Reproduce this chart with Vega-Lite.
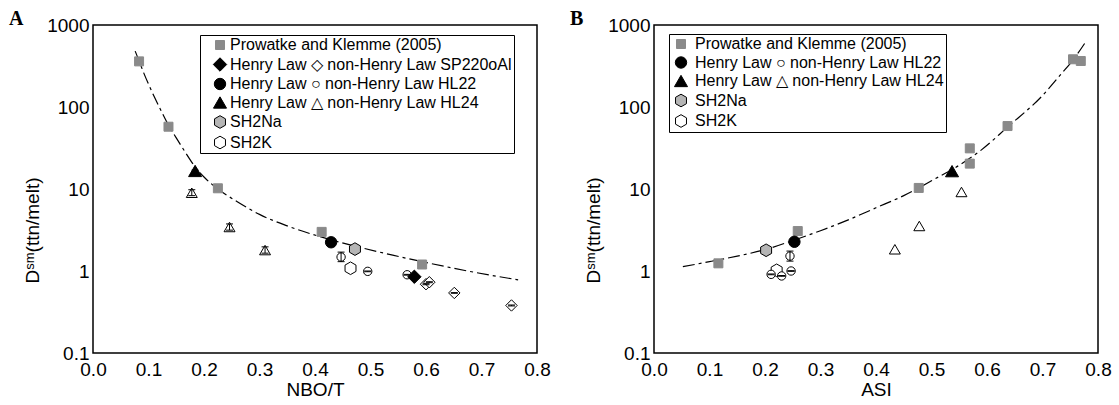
{
  "$schema": "https://vega.github.io/schema/vega-lite/v6.json",
  "background": "white",
  "padding": {"left": 8, "top": 8, "right": 4, "bottom": 4},
  "config": {
    "font": "Liberation Sans",
    "view": {"stroke": "black", "strokeWidth": 1.5},
    "axis": {"domain": false, "grid": false, "labelFont": "Liberation Sans", "titleFont": "Liberation Sans", "labelColor": "black", "titleColor": "black", "tickColor": "black", "tickWidth": 1, "titleFontWeight": "normal", "labelFontSize": 19, "titleFontSize": 19},
    "legend": {"labelFont": "Liberation Sans", "labelFontSize": 16, "labelColor": "black", "strokeColor": "black", "fillColor": "white", "padding": 2, "rowPadding": 2.5, "symbolOffset": 10, "labelOffset": 2, "labelLimit": 600, "symbolStrokeWidth": 1}
  },
  "datasets": {
    "ptsA": [
      {"x": 0.083, "D": 360, "series": "Prowatke and Klemme (2005)"},
      {"x": 0.136, "D": 57.5, "series": "Prowatke and Klemme (2005)"},
      {"x": 0.225, "D": 10.2, "series": "Prowatke and Klemme (2005)"},
      {"x": 0.412, "D": 3.0, "series": "Prowatke and Klemme (2005)"},
      {"x": 0.593, "D": 1.2, "series": "Prowatke and Klemme (2005)"},
      {"x": 0.178, "D": 9.0, "lo": 8.3, "hi": 9.8, "series": "non-Henry Law HL24"},
      {"x": 0.246, "D": 3.44, "lo": 3.15, "hi": 3.75, "series": "non-Henry Law HL24"},
      {"x": 0.31, "D": 1.8, "lo": 1.65, "hi": 1.97, "series": "non-Henry Law HL24"},
      {"x": 0.447, "D": 1.48, "lo": 1.3, "hi": 1.7, "series": "non-Henry Law HL22"},
      {"x": 0.495, "D": 0.99, "lo": 0.98, "hi": 1.0, "series": "non-Henry Law HL22"},
      {"x": 0.566, "D": 0.9, "lo": 0.89, "hi": 0.91, "series": "non-Henry Law HL22"},
      {"x": 0.600, "D": 0.69, "lo": 0.68, "hi": 0.70, "series": "non-Henry Law SP220oAl"},
      {"x": 0.606, "D": 0.73, "lo": 0.72, "hi": 0.74, "series": "non-Henry Law SP220oAl"},
      {"x": 0.651, "D": 0.54, "lo": 0.535, "hi": 0.545, "series": "non-Henry Law SP220oAl"},
      {"x": 0.754, "D": 0.38, "lo": 0.375, "hi": 0.385, "series": "non-Henry Law SP220oAl"},
      {"x": 0.184, "D": 16.6, "lo": 14.6, "hi": 17.0, "series": "Henry Law HL24"},
      {"x": 0.429, "D": 2.24, "series": "Henry Law HL22"},
      {"x": 0.579, "D": 0.85, "series": "Henry Law SP220oAl"},
      {"x": 0.472, "D": 1.85, "series": "SH2Na"},
      {"x": 0.464, "D": 1.08, "series": "SH2K"}
    ],
    "curveA": [
      {"x": 0.076, "D": 480}, {"x": 0.083, "D": 365}, {"x": 0.09, "D": 275}, {"x": 0.10, "D": 190},
      {"x": 0.11, "D": 135}, {"x": 0.12, "D": 98}, {"x": 0.136, "D": 60}, {"x": 0.15, "D": 42},
      {"x": 0.165, "D": 29}, {"x": 0.184, "D": 18.6}, {"x": 0.20, "D": 14}, {"x": 0.225, "D": 10.0},
      {"x": 0.26, "D": 7.0}, {"x": 0.30, "D": 4.9}, {"x": 0.35, "D": 3.55}, {"x": 0.42, "D": 2.5},
      {"x": 0.48, "D": 1.95}, {"x": 0.54, "D": 1.56}, {"x": 0.60, "D": 1.27}, {"x": 0.675, "D": 1.0},
      {"x": 0.766, "D": 0.78}
    ],
    "ptsB": [
      {"x": 0.116, "D": 1.24, "series": "Prowatke and Klemme (2005)"},
      {"x": 0.259, "D": 3.07, "series": "Prowatke and Klemme (2005)"},
      {"x": 0.477, "D": 10.3, "series": "Prowatke and Klemme (2005)"},
      {"x": 0.569, "D": 20.4, "series": "Prowatke and Klemme (2005)"},
      {"x": 0.569, "D": 31.3, "series": "Prowatke and Klemme (2005)"},
      {"x": 0.637, "D": 58.6, "series": "Prowatke and Klemme (2005)"},
      {"x": 0.755, "D": 382, "series": "Prowatke and Klemme (2005)"},
      {"x": 0.769, "D": 364, "series": "Prowatke and Klemme (2005)"},
      {"x": 0.434, "D": 1.84, "series": "non-Henry Law HL24"},
      {"x": 0.478, "D": 3.54, "series": "non-Henry Law HL24"},
      {"x": 0.554, "D": 9.2, "series": "non-Henry Law HL24"},
      {"x": 0.221, "D": 1.02, "series": "SH2K"},
      {"x": 0.245, "D": 1.52, "lo": 1.32, "hi": 1.75, "series": "non-Henry Law HL22"},
      {"x": 0.211, "D": 0.91, "lo": 0.9, "hi": 0.92, "series": "non-Henry Law HL22"},
      {"x": 0.230, "D": 0.87, "lo": 0.86, "hi": 0.88, "series": "non-Henry Law HL22"},
      {"x": 0.247, "D": 1.0, "lo": 0.99, "hi": 1.01, "series": "non-Henry Law HL22"},
      {"x": 0.253, "D": 2.27, "series": "Henry Law HL22"},
      {"x": 0.537, "D": 16.5, "series": "Henry Law HL24"},
      {"x": 0.202, "D": 1.79, "series": "SH2Na"}
    ],
    "curveB": [
      {"x": 0.052, "D": 1.13}, {"x": 0.10, "D": 1.3}, {"x": 0.15, "D": 1.52}, {"x": 0.20, "D": 1.82},
      {"x": 0.25, "D": 2.35}, {"x": 0.30, "D": 3.1}, {"x": 0.35, "D": 4.2}, {"x": 0.40, "D": 5.9},
      {"x": 0.45, "D": 8.3}, {"x": 0.477, "D": 10.3}, {"x": 0.50, "D": 12.6}, {"x": 0.55, "D": 19.5},
      {"x": 0.59, "D": 30}, {"x": 0.637, "D": 57}, {"x": 0.70, "D": 138}, {"x": 0.733, "D": 250},
      {"x": 0.755, "D": 375}, {"x": 0.779, "D": 640}
    ]
  },
  "hconcat": [
    {
      "width": 444, "height": 328,
      "title": {"text": "A", "anchor": "start", "frame": "group", "orient": "top", "offset": 0, "dx": -84, "dy": 29, "align": "left", "baseline": "alphabetic", "font": "Liberation Serif", "fontSize": 20, "fontWeight": "bold", "color": "black"},
      "layer": [
        {
          "data": {"name": "curveA"},
          "mark": {"type": "line", "stroke": "black", "strokeWidth": 1.2, "strokeDash": [12, 4, 3, 4], "interpolate": "monotone"},
          "encoding": {
            "x": {"field": "x", "type": "quantitative", "scale": {"domain": [0, 0.8], "nice": false, "zero": false},
              "axis": {"orient": "top", "title": null, "labels": false, "tickSize": 0, "values": [0,0.05,0.1,0.15,0.2,0.25,0.3,0.35,0.4,0.45,0.5,0.55,0.6,0.65,0.7,0.75,0.8],
                "encode": {"ticks": {"update": {"y2": {"signal": "round(datum.value*20)%2==0 ? 8 : 4"}}}}}},
            "y": {"field": "D", "type": "quantitative", "scale": {"type": "log", "domain": [0.1, 1000], "nice": false},
              "axis": {"orient": "right", "title": null, "labels": false, "tickSize": 0, "values": [0.1,0.2,0.3,0.4,0.5,0.6,0.7,0.8,0.9,1,2,3,4,5,6,7,8,9,10,20,30,40,50,60,70,80,90,100,200,300,400,500,600,700,800,900,1000],
                "encode": {"ticks": {"update": {"x2": {"signal": "abs(log(datum.value)/LN10 - round(log(datum.value)/LN10)) < 0.001 ? -8 : -4"}}}}}}
          }
        },
        {
          "data": {"name": "ptsA"},
          "mark": {"type": "point", "filled": true, "opacity": 1, "strokeWidth": 1},
          "encoding": {
            "x": {"field": "x", "type": "quantitative",
              "axis": {"orient": "bottom", "title": "NBO/T", "tickSize": 0, "labelPadding": 7, "labelOverlap": false, "labelFlush": false, "labelBound": false, "titleY": 36, "titleBaseline": "middle",
                "values": [0,0.05,0.1,0.15,0.2,0.25,0.3,0.35,0.4,0.45,0.5,0.55,0.6,0.65,0.7,0.75,0.8],
                "labelExpr": "round(datum.value*20)%2==0 ? format(datum.value,'.1f') : ''",
                "encode": {"ticks": {"update": {"y2": {"signal": "round(datum.value*20)%2==0 ? -8 : -4"}}}}}},
            "y": {"field": "D", "type": "quantitative",
              "axis": {"orient": "left", "title": "Dˢᵐ(ttn/melt)", "tickSize": 0, "labelPadding": 4, "labelOverlap": false, "labelFlush": false, "labelBound": false, "titleX": -61, "titleY": 205, "titleAlign": "center", "titleBaseline": "middle",
                "values": [0.1,0.2,0.3,0.4,0.5,0.6,0.7,0.8,0.9,1,2,3,4,5,6,7,8,9,10,20,30,40,50,60,70,80,90,100,200,300,400,500,600,700,800,900,1000],
                "labelExpr": "abs(log(datum.value)/LN10 - round(log(datum.value)/LN10)) < 0.001 ? format(datum.value,'~g') : ''",
                "encode": {"ticks": {"update": {"x2": {"signal": "abs(log(datum.value)/LN10 - round(log(datum.value)/LN10)) < 0.001 ? 8 : 4"}}}}}},
            "shape": {"field": "series", "type": "nominal",
              "scale": {"domain": ["Prowatke and Klemme (2005)", "Henry Law SP220oAl", "non-Henry Law SP220oAl", "Henry Law HL22", "non-Henry Law HL22", "Henry Law HL24", "non-Henry Law HL24", "SH2Na", "SH2K"],
                "range": ["square", "diamond", "diamond", "circle", "circle", "triangle-up", "triangle-up", "M0,-1L0.866,-0.5L0.866,0.5L0,1L-0.866,0.5L-0.866,-0.5Z", "M0,-1L0.866,-0.5L0.866,0.5L0,1L-0.866,0.5L-0.866,-0.5Z"]},
              "legend": {"orient": "none", "legendX": 107, "legendY": 10, "title": null,
                "values": ["Prowatke and Klemme (2005)", "Henry Law SP220oAl", "Henry Law HL22", "Henry Law HL24", "SH2Na", "SH2K"],
                "labelExpr": "datum.label == 'Henry Law SP220oAl' ? 'Henry Law ◇ non-Henry Law SP220oAl' : datum.label == 'Henry Law HL22' ? 'Henry Law ○ non-Henry Law HL22' : datum.label == 'Henry Law HL24' ? 'Henry Law △ non-Henry Law HL24' : datum.label"}},
            "fill": {"field": "series", "type": "nominal",
              "scale": {"domain": ["Prowatke and Klemme (2005)", "Henry Law SP220oAl", "non-Henry Law SP220oAl", "Henry Law HL22", "non-Henry Law HL22", "Henry Law HL24", "non-Henry Law HL24", "SH2Na", "SH2K"],
                "range": ["#8a8a8a", "black", "white", "black", "white", "black", "white", "#b5b5b5", "white"]}},
            "stroke": {"field": "series", "type": "nominal",
              "scale": {"domain": ["Prowatke and Klemme (2005)", "Henry Law SP220oAl", "non-Henry Law SP220oAl", "Henry Law HL22", "non-Henry Law HL22", "Henry Law HL24", "non-Henry Law HL24", "SH2Na", "SH2K"],
                "range": ["#8a8a8a", "black", "black", "black", "black", "black", "black", "black", "black"]}},
            "size": {"field": "series", "type": "nominal",
              "scale": {"type": "ordinal", "domain": ["Prowatke and Klemme (2005)", "Henry Law SP220oAl", "non-Henry Law SP220oAl", "Henry Law HL22", "non-Henry Law HL22", "Henry Law HL24", "non-Henry Law HL24", "SH2Na", "SH2K"],
                "range": [81, 180, 130, 130, 70, 170, 120, 160, 160]}}
          }
        },
        {
          "data": {"name": "ptsA"},
          "transform": [{"filter": "isValid(datum.lo)"}],
          "mark": {"type": "rule", "color": "black", "strokeWidth": 1},
          "encoding": {
            "x": {"field": "x", "type": "quantitative", "axis": null},
            "y": {"field": "lo", "type": "quantitative", "axis": null},
            "y2": {"field": "hi"}
          }
        },
        {
          "data": {"name": "ptsA"},
          "transform": [{"filter": "isValid(datum.lo)"}],
          "mark": {"type": "tick", "orient": "horizontal", "color": "black", "size": 7, "thickness": 1, "opacity": 1},
          "encoding": {
            "x": {"field": "x", "type": "quantitative", "axis": null},
            "y": {"field": "lo", "type": "quantitative", "axis": null}
          }
        },
        {
          "data": {"name": "ptsA"},
          "transform": [{"filter": "isValid(datum.hi)"}],
          "mark": {"type": "tick", "orient": "horizontal", "color": "black", "size": 7, "thickness": 1, "opacity": 1},
          "encoding": {
            "x": {"field": "x", "type": "quantitative", "axis": null},
            "y": {"field": "hi", "type": "quantitative", "axis": null}
          }
        }
      ],
      "resolve": {"axis": {"x": "independent", "y": "independent"}}
    },
    {
      "width": 444, "height": 328,
      "title": {"text": "B", "anchor": "start", "frame": "group", "orient": "top", "offset": 0, "dx": -84, "dy": 29, "align": "left", "baseline": "alphabetic", "font": "Liberation Serif", "fontSize": 20, "fontWeight": "bold", "color": "black"},
      "layer": [
        {
          "data": {"name": "curveB"},
          "mark": {"type": "line", "stroke": "black", "strokeWidth": 1.2, "strokeDash": [12, 4, 3, 4], "interpolate": "monotone"},
          "encoding": {
            "x": {"field": "x", "type": "quantitative", "scale": {"domain": [0, 0.8], "nice": false, "zero": false},
              "axis": {"orient": "top", "title": null, "labels": false, "tickSize": 0, "values": [0,0.05,0.1,0.15,0.2,0.25,0.3,0.35,0.4,0.45,0.5,0.55,0.6,0.65,0.7,0.75,0.8],
                "encode": {"ticks": {"update": {"y2": {"signal": "round(datum.value*20)%2==0 ? 8 : 4"}}}}}},
            "y": {"field": "D", "type": "quantitative", "scale": {"type": "log", "domain": [0.1, 1000], "nice": false},
              "axis": {"orient": "right", "title": null, "labels": false, "tickSize": 0, "values": [0.1,0.2,0.3,0.4,0.5,0.6,0.7,0.8,0.9,1,2,3,4,5,6,7,8,9,10,20,30,40,50,60,70,80,90,100,200,300,400,500,600,700,800,900,1000],
                "encode": {"ticks": {"update": {"x2": {"signal": "abs(log(datum.value)/LN10 - round(log(datum.value)/LN10)) < 0.001 ? -8 : -4"}}}}}}
          }
        },
        {
          "data": {"name": "ptsB"},
          "mark": {"type": "point", "filled": true, "opacity": 1, "strokeWidth": 1},
          "encoding": {
            "x": {"field": "x", "type": "quantitative",
              "axis": {"orient": "bottom", "title": "ASI", "tickSize": 0, "labelPadding": 7, "labelOverlap": false, "labelFlush": false, "labelBound": false, "titleY": 36, "titleBaseline": "middle",
                "values": [0,0.05,0.1,0.15,0.2,0.25,0.3,0.35,0.4,0.45,0.5,0.55,0.6,0.65,0.7,0.75,0.8],
                "labelExpr": "round(datum.value*20)%2==0 ? format(datum.value,'.1f') : ''",
                "encode": {"ticks": {"update": {"y2": {"signal": "round(datum.value*20)%2==0 ? -8 : -4"}}}}}},
            "y": {"field": "D", "type": "quantitative",
              "axis": {"orient": "left", "title": "Dˢᵐ(ttn/melt)", "tickSize": 0, "labelPadding": 4, "labelOverlap": false, "labelFlush": false, "labelBound": false, "titleX": -61, "titleY": 205, "titleAlign": "center", "titleBaseline": "middle",
                "values": [0.1,0.2,0.3,0.4,0.5,0.6,0.7,0.8,0.9,1,2,3,4,5,6,7,8,9,10,20,30,40,50,60,70,80,90,100,200,300,400,500,600,700,800,900,1000],
                "labelExpr": "abs(log(datum.value)/LN10 - round(log(datum.value)/LN10)) < 0.001 ? format(datum.value,'~g') : ''",
                "encode": {"ticks": {"update": {"x2": {"signal": "abs(log(datum.value)/LN10 - round(log(datum.value)/LN10)) < 0.001 ? 8 : 4"}}}}}},
            "shape": {"field": "series", "type": "nominal",
              "scale": {"domain": ["Prowatke and Klemme (2005)", "Henry Law HL22", "non-Henry Law HL22", "Henry Law HL24", "non-Henry Law HL24", "SH2Na", "SH2K"],
                "range": ["square", "circle", "circle", "triangle-up", "triangle-up", "M0,-1L0.866,-0.5L0.866,0.5L0,1L-0.866,0.5L-0.866,-0.5Z", "M0,-1L0.866,-0.5L0.866,0.5L0,1L-0.866,0.5L-0.866,-0.5Z"]},
              "legend": {"orient": "none", "legendX": 15, "legendY": 9, "title": null, "symbolOffset": 2, "labelOffset": 6,
                "values": ["Prowatke and Klemme (2005)", "Henry Law HL22", "Henry Law HL24", "SH2Na", "SH2K"],
                "labelExpr": "datum.label == 'Henry Law HL22' ? 'Henry Law ○ non-Henry Law HL22' : datum.label == 'Henry Law HL24' ? 'Henry Law △ non-Henry Law HL24' : datum.label"}},
            "fill": {"field": "series", "type": "nominal",
              "scale": {"domain": ["Prowatke and Klemme (2005)", "Henry Law HL22", "non-Henry Law HL22", "Henry Law HL24", "non-Henry Law HL24", "SH2Na", "SH2K"],
                "range": ["#8a8a8a", "black", "white", "black", "white", "#b5b5b5", "white"]}},
            "stroke": {"field": "series", "type": "nominal",
              "scale": {"domain": ["Prowatke and Klemme (2005)", "Henry Law HL22", "non-Henry Law HL22", "Henry Law HL24", "non-Henry Law HL24", "SH2Na", "SH2K"],
                "range": ["#8a8a8a", "black", "black", "black", "black", "black", "black"]}},
            "size": {"field": "series", "type": "nominal",
              "scale": {"type": "ordinal", "domain": ["Prowatke and Klemme (2005)", "Henry Law HL22", "non-Henry Law HL22", "Henry Law HL24", "non-Henry Law HL24", "SH2Na", "SH2K"],
                "range": [81, 130, 70, 170, 120, 160, 160]}}
          }
        },
        {
          "data": {"name": "ptsB"},
          "transform": [{"filter": "isValid(datum.lo)"}],
          "mark": {"type": "rule", "color": "black", "strokeWidth": 1},
          "encoding": {
            "x": {"field": "x", "type": "quantitative", "axis": null},
            "y": {"field": "lo", "type": "quantitative", "axis": null},
            "y2": {"field": "hi"}
          }
        },
        {
          "data": {"name": "ptsB"},
          "transform": [{"filter": "isValid(datum.lo)"}],
          "mark": {"type": "tick", "orient": "horizontal", "color": "black", "size": 7, "thickness": 1, "opacity": 1},
          "encoding": {
            "x": {"field": "x", "type": "quantitative", "axis": null},
            "y": {"field": "lo", "type": "quantitative", "axis": null}
          }
        },
        {
          "data": {"name": "ptsB"},
          "transform": [{"filter": "isValid(datum.hi)"}],
          "mark": {"type": "tick", "orient": "horizontal", "color": "black", "size": 7, "thickness": 1, "opacity": 1},
          "encoding": {
            "x": {"field": "x", "type": "quantitative", "axis": null},
            "y": {"field": "hi", "type": "quantitative", "axis": null}
          }
        }
      ],
      "resolve": {"axis": {"x": "independent", "y": "independent"}}
    }
  ],
  "spacing": 117,
  "bounds": "flush",
  "resolve": {
    "scale": {"shape": "independent", "fill": "independent", "stroke": "independent", "size": "independent"},
    "legend": {"shape": "independent", "fill": "independent", "stroke": "independent", "size": "independent"}
  }
}
